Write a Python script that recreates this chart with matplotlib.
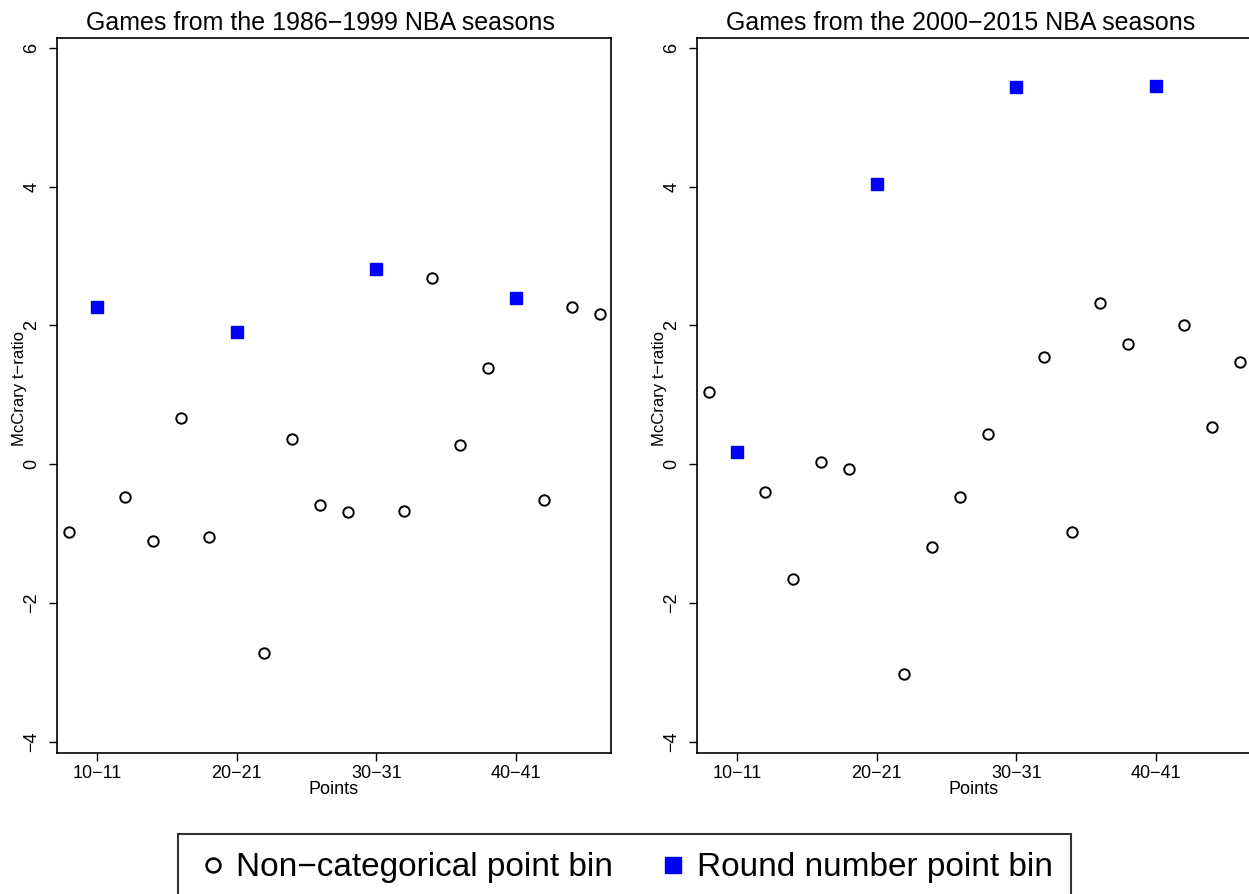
import numpy as np
import matplotlib
matplotlib.use("Agg")
from matplotlib import pyplot as plt

plt.rcParams['font.family'] = ['Liberation Sans', 'DejaVu Sans']

# point bins (lower bound of each two-point bin)
bins = [8, 10, 12, 14, 16, 18, 20, 22, 24, 26, 28, 30, 32, 34, 36, 38, 40, 42, 44, 46]
round_bins = [10, 20, 30, 40]

# McCrary t-ratios, 1986-1999
t_early = [-0.98, 2.27, -0.47, -1.11, 0.66, -1.05, 1.91, -2.72, 0.36, -0.59,
           -0.69, 2.81, -0.68, 2.68, 0.27, 1.38, 2.40, -0.52, 2.26, 2.16]
# McCrary t-ratios, 2000-2015
t_late = [1.04, 0.17, -0.40, -1.65, 0.03, -0.07, 4.03, -3.02, -1.19, -0.47,
          0.43, 5.44, 1.54, -0.98, 2.32, 1.73, 5.45, 2.00, 0.53, 1.47]

titles = ["Games from the 1986\u22121999 NBA seasons",
          "Games from the 2000\u22122015 NBA seasons"]
xtick_labels = ["10\u221211", "20\u221221", "30\u221231", "40\u221241"]
yticks = [-4, -2, 0, 2, 4, 6]
legend_labels = ["Non\u2212categorical point bin", "Round number point bin"]

fig = plt.figure(figsize=(12.49, 8.94), dpi=100)
W, H = 1249, 894
# axes boxes in pixels: left, right, top, bottom
boxes = [(57, 611, 38, 753), (697, 1251, 38, 753)]

for (l, r, t, b), title, vals in zip(boxes, titles, [t_early, t_late]):
    ax = fig.add_axes([l / W, 1 - b / H, (r - l) / W, (b - t) / H])
    bins_a = np.array(bins)
    vals_a = np.array(vals)
    is_round = np.isin(bins_a, round_bins)
    ax.plot(bins_a[~is_round], vals_a[~is_round], linestyle='none', marker='o',
            ms=7.5, mfc='white', mec='black', mew=1.4)
    ax.plot(bins_a[is_round], vals_a[is_round], linestyle='none', marker='s',
            ms=8, mfc='#0000ff', mec='#0000ff')
    ax.set_xlim(7.15, 46.8)
    ax.set_ylim(-4.16, 6.14)
    ax.set_xticks(round_bins)
    ax.set_xticklabels(xtick_labels)
    ax.set_yticks(yticks)
    ax.set_yticklabels([str(v).replace('-', '\u2212') for v in yticks],
                       rotation=90, va='center')
    ax.tick_params(direction='out', length=6, width=1, labelsize=13, pad=3)
    ax.tick_params(axis='y', pad=6)
    for s in ax.spines.values():
        s.set_linewidth(1.2)
    ax.set_title(title, fontsize=18, pad=6, x=0.475)
    ax.set_xlabel("Points", fontsize=13, labelpad=-1)
    ax.set_ylabel("McCrary t\u2212ratio", fontsize=12, labelpad=5)
    ax.yaxis.set_label_coords(-0.055, 0.51)

h1, = plt.plot([], [], linestyle='none', marker='o', ms=10, mfc='white',
               mec='black', mew=1.8)
h2, = plt.plot([], [], linestyle='none', marker='s', ms=11, mfc='#0000ff',
               mec='#0000ff')
leg = fig.legend([h1, h2], legend_labels, loc='upper center',
                 bbox_to_anchor=(0.5, 1 - 834 / H), ncol=2, fontsize=24,
                 frameon=True, fancybox=False, edgecolor='black',
                 handletextpad=0.2, columnspacing=1.3, borderpad=0.55,
                 handlelength=1.0, borderaxespad=0)
leg.get_frame().set_linewidth(1.5)

fig.savefig("out.png", dpi=100)
